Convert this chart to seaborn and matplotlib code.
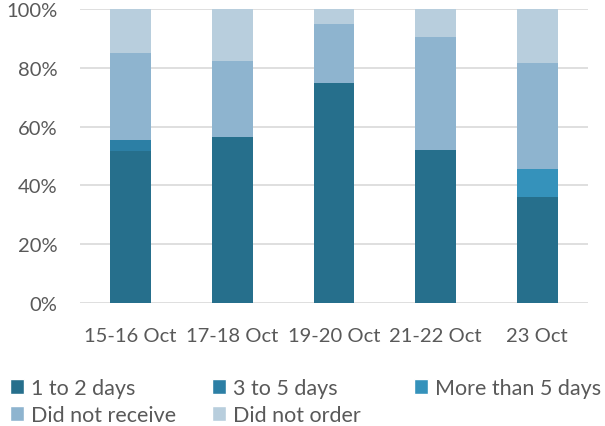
import numpy as np
import pandas as pd
import seaborn as sns
import matplotlib.pyplot as plt
from matplotlib.patches import Patch
from matplotlib.ticker import PercentFormatter

periods = ["15-16 Oct", "17-18 Oct", "19-20 Oct", "21-22 Oct", "23 Oct"]
series = ["1 to 2 days", "3 to 5 days", "More than 5 days", "Did not receive", "Did not order"]
one_to_two = [51.8, 56.4, 74.9, 52.1, 36.1]
three_to_five = [3.6, 0.0, 0.0, 0.0, 0.0]
more_than_five = [0.0, 0.0, 0.0, 0.0, 9.3]
did_not_receive = [29.7, 25.9, 20.1, 38.4, 36.3]
did_not_order = [14.9, 17.7, 5.0, 9.5, 18.3]
colors = ["#266f8c", "#2c7fa5", "#3592bb", "#8eb4cf", "#b8cedd"]

sns.set_style("white")
plt.rcParams["font.family"] = ["Lato", "DejaVu Sans"]

fig = plt.figure(figsize=(6.05, 4.27), dpi=100)
ax = fig.add_axes([0.132, 0.288, 0.84, 0.689])

bottom = np.zeros(len(periods))
for name, vals, col in zip(series, [one_to_two, three_to_five, more_than_five, did_not_receive, did_not_order], colors):
    sns.barplot(x=periods, y=vals, bottom=bottom, color=col, width=0.4, ax=ax,
                linewidth=0, saturation=1)
    bottom = bottom + np.array(vals)

ax.set_ylim(0, 100)
ax.set_yticks(range(0, 101, 20))
ax.yaxis.set_major_formatter(PercentFormatter(decimals=0))
ax.grid(axis="y", color="#d9d9d9", linewidth=1.2)
ax.set_axisbelow(True)
sns.despine(ax=ax, left=True, bottom=True)
ax.tick_params(axis="both", length=0, labelsize=14.5, labelcolor="#595959")
ax.tick_params(axis="y", pad=16)
ax.tick_params(axis="x", pad=17)
ax.set_xlim(-0.5, 4.5)

# legend laid out as Excel does: equal-width columns, filled row by row
handles = [Patch(facecolor=c, label=s) for s, c in zip(series, colors)]
legend_cols = [[0, 3], [1, 4], [2]]
col_x = [10, 212, 414]
for idx, x in zip(legend_cols, col_x):
    leg = fig.legend(handles=[handles[i] for i in idx], loc="upper left",
                     bbox_to_anchor=(x / 605, 1 - 379 / 427), ncol=1, frameon=False,
                     fontsize=15.5, labelcolor="#595959", handlelength=0.65, handleheight=0.65,
                     handletextpad=0.33, labelspacing=0.32, borderpad=0, borderaxespad=0)

fig.savefig("out.png", dpi=100)
